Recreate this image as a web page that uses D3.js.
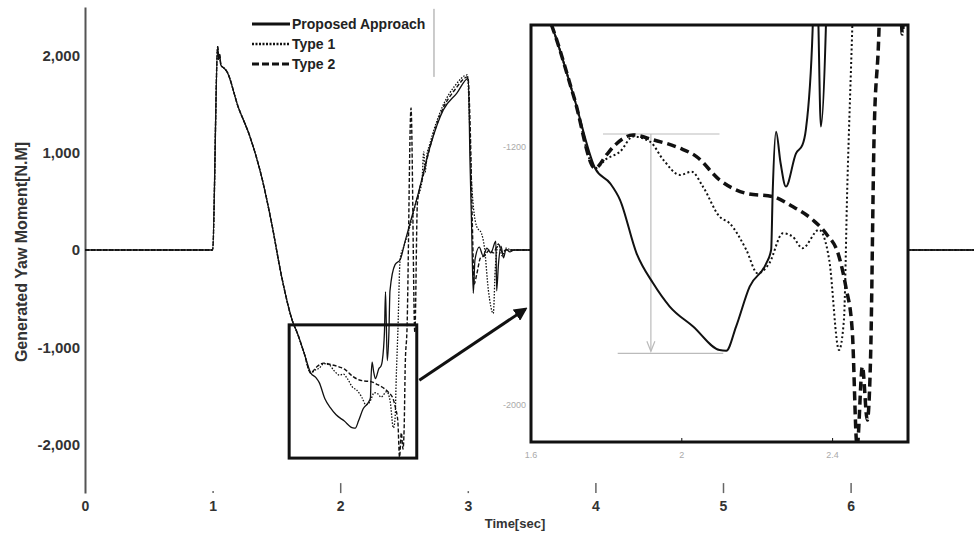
<!DOCTYPE html>
<html>
<head>
<meta charset="utf-8">
<script src="https://cdn.jsdelivr.net/npm/d3@7"></script>
<style>
  body { margin: 0; background: #fff; }
  text { font-family: "Liberation Sans", Arial, sans-serif; }
</style>
</head>
<body>
<script>
// time [sec], yaw moment [N.M] -- shared part of all three runs
var commonPart = [[0,0],[1.0,0],[1.04,2090],[1.048,1960],[1.055,2010],[1.065,1900],[1.09,1870],[1.11,1840],
  [1.20,1474],[1.293,1165],[1.384,754],[1.463,274],[1.541,-274],[1.632,-754],[1.66,-840],[1.715,-1050],[1.77,-1266]];

var proposedTail = [[1.81,-1313],[1.836,-1364],[1.88,-1530],[1.924,-1623],[1.968,-1695],[2.03,-1757],[2.10,-1830],
  [2.118,-1832],[2.144,-1757],[2.18,-1633],[2.224,-1561],[2.237,-1519],[2.241,-1344],[2.25,-1153],[2.262,-1250],
  [2.276,-1323],[2.303,-1220],[2.32,-1194],[2.329,-1147],[2.347,-837],[2.355,-430],[2.362,-800],[2.369,-1137],
  [2.382,-837],[2.39,-420],[2.43,-150],[2.47,-100],[2.508,86],[2.547,274],[2.612,583],[2.704,1062],[2.808,1440],
  [2.913,1611],[3.004,1765],[3.017,925],[3.03,240],[3.043,-445],[3.056,-103],[3.09,30],[3.12,-60],[3.15,20],
  [3.18,-30],[3.22,90],[3.226,-420],[3.24,-150],[3.26,40],[3.28,-80],[3.30,10],[3.33,-20],[3.36,0],[7,0]];

var type1Tail = [[1.80,-1237],[1.836,-1215],[1.871,-1168],[1.916,-1184],[1.951,-1240],[1.995,-1287],[2.026,-1277],
  [2.056,-1323],[2.10,-1416],[2.127,-1437],[2.171,-1519],[2.201,-1592],[2.232,-1561],[2.268,-1468],[2.294,-1478],
  [2.32,-1514],[2.364,-1457],[2.391,-1550],[2.417,-1830],[2.43,-1737],[2.439,-1323],[2.452,-837],[2.47,-90],
  [2.50,40],[2.55,260],[2.60,520],[2.64,700],[2.655,1010],[2.665,800],[2.68,980],[2.70,1080],[2.80,1470],
  [2.90,1690],[2.996,1800],[3.03,685],[3.07,240],[3.107,171],[3.13,30],[3.161,-411],[3.20,-651],[3.215,-200],
  [3.24,60],[3.27,-60],[3.30,20],[3.34,0],[7,0]];

var type2Tail = [[1.80,-1225],[1.819,-1199],[1.871,-1163],[1.924,-1178],[1.995,-1204],[2.039,-1230],[2.10,-1302],
  [2.171,-1344],[2.241,-1354],[2.294,-1385],[2.347,-1426],[2.382,-1468],[2.417,-1540],[2.435,-1633],[2.452,-1767],
  [2.465,-2130],[2.479,-1881],[2.492,-2047],[2.501,-1840],[2.51,-1168],[2.523,-837],[2.555,1460],[2.585,-850],
  [2.605,480],[2.65,760],[2.70,1040],[2.80,1440],[2.90,1650],[3.00,1780],[3.02,1200],[3.035,300],[3.05,-350],
  [3.07,-250],[3.10,-80],[3.13,-60],[3.17,0],[3.20,-30],[3.24,60],[3.27,-20],[3.30,0],[7,0]];

var seriesNames = ["Proposed Approach", "Type 1", "Type 2"];
var xTicks = [0, 1, 2, 3, 4, 5, 6];
var yTicks = [-2000, -1000, 0, 1000, 2000];
var insetXTicks = [1.6, 2, 2.4];
var insetYTicks = [-1200, -2000];
var zoomTime = [1.6, 2.6];          // zoom window in main chart
var zoomMoment = [-2140, -770];
var insetMoment = [-2115, -822];     // inset y range
var dropLevels = [-1160, -1840];     // gray annotation in inset
var dropTimes = [1.791, 2.10, 1.918, 1.83, 2.11];

const canvWidth = 974, canvHeight = 535;

var svg = d3.select("body").append("svg")
    .attr("width", canvWidth)
    .attr("height", canvHeight);

var xScale = d3.scaleLinear().domain([0, 7]).range([85, 85 + 7 * 127.6]);
var yScale = d3.scaleLinear().domain([-2500, 2500]).range([493.1, 6.9]);

var ixScale = d3.scaleLinear().domain(zoomTime).range([531, 908]);
var iyScale = d3.scaleLinear().domain(insetMoment).range([442, 25]);

var series = [
    {name: seriesNames[0], data: commonPart.concat(proposedTail), dash: null, mainW: 1.3, insetW: 2, insetDash: null},
    {name: seriesNames[1], data: commonPart.concat(type1Tail), dash: "1.5,1.5", mainW: 1.3, insetW: 2, insetDash: "2,2.5"},
    {name: seriesNames[2], data: commonPart.concat(type2Tail), dash: "4,2", mainW: 1.4, insetW: 3.5, insetDash: "9,5"}
];

var fmt = function (d) { return d3.format(",")(d).replace("\u2212", "-"); };

// y axis
var yAxisG = svg.append("g")
    .attr("transform", "translate(" + xScale(0) + ",0)")
    .call(d3.axisLeft(yScale).tickValues(yTicks).tickSize(0).tickPadding(5).tickFormat(fmt));
yAxisG.select(".domain").attr("stroke", "#555").attr("stroke-width", 2);
yAxisG.selectAll("text")
    .attr("font-size", "15px").attr("font-weight", "bold").attr("fill", "#333");

// x axis (no base line, ticks point up)
var xAxisG = svg.append("g")
    .attr("transform", "translate(0," + yScale(-2500) + ")")
    .call(d3.axisBottom(xScale).tickValues(xTicks).tickSize(-10).tickPadding(8).tickFormat(d3.format("d")));
xAxisG.select(".domain").remove();
xAxisG.selectAll(".tick line").attr("stroke", "#666").attr("stroke-width", 1.5)
    .attr("y2", d => (d == 1 || d == 3) ? -2 : -10);
xAxisG.selectAll(".tick").filter(d => d == 0).select("line").remove();
xAxisG.selectAll("text")
    .attr("font-size", "14px").attr("font-weight", "bold").attr("fill", "#333");

svg.append("text")
    .attr("transform", "rotate(-90)")
    .attr("x", -252).attr("y", 27)
    .attr("text-anchor", "middle")
    .attr("font-size", "16px").attr("font-weight", "bold").attr("fill", "#333")
    .text("Generated Yaw Moment[N.M]");

svg.append("text")
    .attr("x", 515).attr("y", 528)
    .attr("text-anchor", "middle")
    .attr("font-size", "13px").attr("font-weight", "bold").attr("fill", "#333")
    .text("Time[sec]");

// main curves
var mainLine = d3.line()
    .x(d => xScale(d[0]))
    .y(d => yScale(d[1]))
    .curve(d3.curveMonotoneX);

svg.append("g").selectAll("path")
    .data(series).enter()
    .append("path")
    .attr("d", d => mainLine(d.data))
    .attr("fill", "none")
    .attr("stroke", "#111")
    .attr("stroke-width", d => d.mainW)
    .attr("stroke-dasharray", d => d.dash);

// gray marker near legend
svg.append("line")
    .attr("x1", xScale(2.735)).attr("x2", xScale(2.735))
    .attr("y1", yScale(2480)).attr("y2", yScale(1780))
    .attr("stroke", "#999").attr("stroke-width", 1);

// legend
var legend = svg.append("g");
var legendY = [24, 44, 64];
var legendStyle = [{w: 3, dash: null}, {w: 2.5, dash: "2,1.5"}, {w: 3, dash: "7,3"}];
series.forEach(function (s, i) {
    legend.append("line")
        .attr("x1", 252).attr("x2", 290)
        .attr("y1", legendY[i]).attr("y2", legendY[i])
        .attr("stroke", "#111")
        .attr("stroke-width", legendStyle[i].w)
        .attr("stroke-dasharray", legendStyle[i].dash);
    legend.append("text")
        .attr("x", 292).attr("y", legendY[i]).attr("dy", "0.35em")
        .attr("font-size", "14px").attr("font-weight", "bold").attr("fill", "#222")
        .text(s.name);
});

// zoom window on main chart
svg.append("rect")
    .attr("x", xScale(zoomTime[0])).attr("y", yScale(zoomMoment[1]))
    .attr("width", xScale(zoomTime[1]) - xScale(zoomTime[0]))
    .attr("height", yScale(zoomMoment[0]) - yScale(zoomMoment[1]))
    .attr("fill", "none").attr("stroke", "#111").attr("stroke-width", 3);

// arrow to inset
var defs = svg.append("defs");
defs.append("marker")
    .attr("id", "bigArrow")
    .attr("viewBox", "0 0 10 10")
    .attr("refX", 8).attr("refY", 5)
    .attr("markerWidth", 4.5).attr("markerHeight", 4.5)
    .attr("markerUnits", "strokeWidth")
    .attr("orient", "auto")
    .append("path").attr("d", "M0,0L10,5L0,10Z").attr("fill", "#111");

svg.append("line")
    .attr("x1", xScale(2.62)).attr("y1", yScale(-1340))
    .attr("x2", ixScale(1.585)).attr("y2", iyScale(-1703))
    .attr("stroke", "#111").attr("stroke-width", 3)
    .attr("marker-end", "url(#bigArrow)");

// inset
var inset = svg.append("g");
defs.append("clipPath").attr("id", "insetClip")
    .append("rect")
    .attr("x", ixScale(zoomTime[0])).attr("y", iyScale(insetMoment[1]))
    .attr("width", ixScale(zoomTime[1]) - ixScale(zoomTime[0]))
    .attr("height", iyScale(insetMoment[0]) - iyScale(insetMoment[1]));

inset.append("rect")
    .attr("x", ixScale(zoomTime[0])).attr("y", iyScale(insetMoment[1]))
    .attr("width", ixScale(zoomTime[1]) - ixScale(zoomTime[0]))
    .attr("height", iyScale(insetMoment[0]) - iyScale(insetMoment[1]))
    .attr("fill", "#fff");

// gray drop annotation
var gray = inset.append("g").attr("stroke", "#bbb").attr("stroke-width", 1.2).attr("fill", "none");
gray.append("line")
    .attr("x1", ixScale(dropTimes[0])).attr("x2", ixScale(dropTimes[1]))
    .attr("y1", iyScale(dropLevels[0])).attr("y2", iyScale(dropLevels[0]));
gray.append("line")
    .attr("x1", ixScale(dropTimes[3])).attr("x2", ixScale(dropTimes[4]))
    .attr("y1", iyScale(dropLevels[1])).attr("y2", iyScale(dropLevels[1]));
gray.append("line")
    .attr("x1", ixScale(dropTimes[2])).attr("x2", ixScale(dropTimes[2]))
    .attr("y1", iyScale(dropLevels[0])).attr("y2", iyScale(dropLevels[1]) - 2);
gray.append("path")
    .attr("d", "M" + (ixScale(dropTimes[2]) - 4) + "," + (iyScale(dropLevels[1]) - 12) +
        "L" + ixScale(dropTimes[2]) + "," + (iyScale(dropLevels[1]) - 2) +
        "L" + (ixScale(dropTimes[2]) + 4) + "," + (iyScale(dropLevels[1]) - 12));

var insetLine = d3.line()
    .x(d => ixScale(d[0]))
    .y(d => iyScale(d[1]))
    .curve(d3.curveMonotoneX);

inset.append("g").attr("clip-path", "url(#insetClip)")
    .selectAll("path")
    .data(series).enter()
    .append("path")
    .attr("d", d => insetLine(d.data.filter(p => p[0] > 1.5 && p[0] < 2.7)))
    .attr("fill", "none")
    .attr("stroke", "#111")
    .attr("stroke-width", d => d.insetW)
    .attr("stroke-dasharray", d => d.insetDash);

// inset ticks
inset.selectAll(".ixt")
    .data(insetXTicks.filter(d => d > 1.6)).enter()
    .append("line")
    .attr("x1", d => ixScale(d)).attr("x2", d => ixScale(d))
    .attr("y1", iyScale(insetMoment[0])).attr("y2", iyScale(insetMoment[0]) - 4)
    .attr("stroke", "#111").attr("stroke-width", 1);

inset.selectAll(".ixl")
    .data(insetXTicks).enter()
    .append("text")
    .attr("x", d => ixScale(d)).attr("y", iyScale(insetMoment[0]) + 16)
    .attr("text-anchor", "middle")
    .attr("font-size", "9px").attr("fill", "#aaa")
    .text(d => d);

inset.selectAll(".iyl")
    .data(insetYTicks).enter()
    .append("text")
    .attr("x", ixScale(zoomTime[0]) - 5).attr("y", d => iyScale(d)).attr("dy", "0.35em")
    .attr("text-anchor", "end")
    .attr("font-size", "9px").attr("fill", "#aaa")
    .text(d => d);

inset.append("rect")
    .attr("x", ixScale(zoomTime[0])).attr("y", iyScale(insetMoment[1]))
    .attr("width", ixScale(zoomTime[1]) - ixScale(zoomTime[0]))
    .attr("height", iyScale(insetMoment[0]) - iyScale(insetMoment[1]))
    .attr("fill", "none").attr("stroke", "#111").attr("stroke-width", 3);
</script>
</body>
</html>
